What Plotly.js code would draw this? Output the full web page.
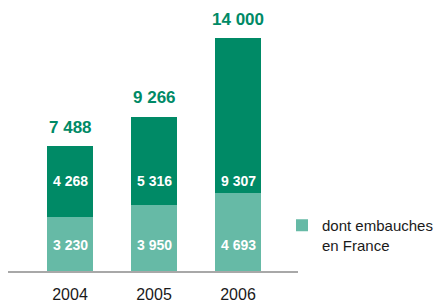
<!DOCTYPE html>
<html><head><meta charset="utf-8">
<script src="https://cdn.plot.ly/plotly-3.0.1.min.js"></script>
<style>html,body{margin:0;padding:0;background:#fff}#c{width:438px;height:304px}</style>
</head><body><div id="c"></div>
<script>
const years = ['2004', '2005', '2006'];
const france = [3230, 3950, 4693];
const other = [4268, 5316, 9307];
const totals = [7488, 9266, 14000];
const franceLabels = ['3 230', '3 950', '4 693'];
const otherLabels = ['4 268', '5 316', '9 307'];
const totalLabels = ['7 488', '9 266', '14 000'];
const legendLabel = 'dont embauches<br>en France';

const dark = '#008a66';
const light = '#66baa6';
const font = 'Liberation Sans, Arial, sans-serif';

const traces = [
  {type:'bar', x:years, y:france, name:legendLabel, marker:{color:light}, width:0.548, showlegend:true, hoverinfo:'none'},
  {type:'bar', x:years, y:other, name:'', marker:{color:dark}, width:0.548, showlegend:false, hoverinfo:'none'}
];

const ann = [];
years.forEach((yr,i)=>{
  ann.push({x:i, y:1562, text:'<b>'+franceLabels[i]+'</b>', showarrow:false, font:{family:font,size:14,color:'#fff'}, yanchor:'middle'});
  ann.push({x:i, y:5409, text:'<b>'+otherLabels[i]+'</b>', showarrow:false, font:{family:font,size:14,color:'#fff'}, yanchor:'middle'});
  ann.push({x:i, y:totals[i], text:'<b>'+totalLabels[i]+'</b>', showarrow:false, font:{family:font,size:17,color:dark}, yanchor:'middle', yshift:19});
});

const layout = {
  width:438, height:304,
  margin:{l:8, r:0, t:20, b:33},
  barmode:'stack',
  paper_bgcolor:'#fff', plot_bgcolor:'#fff',
  xaxis:{type:'category', domain:[0, 290/430], range:[-0.738, 2.714], showline:true, linecolor:'#a8a8a8', linewidth:2, ticks:'', showgrid:false, zeroline:false,
    tickfont:{family:font, size:16, color:'#1a1a1a'}, ticklabelstandoff:8, fixedrange:true},
  yaxis:{range:[0, 15084], visible:false, showgrid:false, zeroline:false, fixedrange:true},
  legend:{x:(282-8)/430, xanchor:'left', y:(271-209)/251, yanchor:'top', valign:'top', font:{family:font, size:15, color:'#1a1a1a'}, bgcolor:'rgba(0,0,0,0)', itemwidth:30},
  annotations:ann,
  showlegend:true
};
Plotly.newPlot('c', traces, layout, {displayModeBar:false, staticPlot:true});
</script></body></html>
